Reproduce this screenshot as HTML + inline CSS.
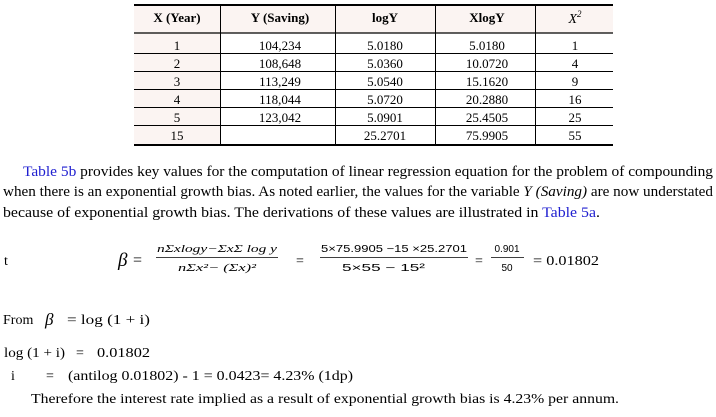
<!DOCTYPE html>
<html><head><meta charset="utf-8"><style>
html,body{margin:0;padding:0;background:#fff;}
svg{display:block}
text{font-family:"Liberation Serif",serif;fill:#000;white-space:pre}
.b{font-weight:bold}
.blue{fill:#2020d0}
.c{text-anchor:middle}
.s{font-family:"Liberation Sans",sans-serif}
</style></head><body>
<svg width="716" height="417" viewBox="0 0 716 417" xmlns="http://www.w3.org/2000/svg" xml:space="preserve">
<rect x="134" y="5" width="479" height="28" fill="#fbf4f2"/>
<rect x="134" y="33" width="86" height="112" fill="#fbf4f2"/>
<line x1="134" y1="5" x2="613" y2="5" stroke="#000" stroke-width="2"/>
<line x1="134" y1="33" x2="613" y2="33" stroke="#000" stroke-width="1.3"/>
<g stroke="#000" stroke-width="1">
<line x1="134" y1="53.5" x2="613" y2="53.5"/>
<line x1="134" y1="71.5" x2="613" y2="71.5"/>
<line x1="134" y1="89.5" x2="613" y2="89.5"/>
<line x1="134" y1="107.5" x2="613" y2="107.5"/>
<line x1="134" y1="125.5" x2="613" y2="125.5"/>
<line x1="220.5" y1="5" x2="220.5" y2="145"/>
<line x1="335.5" y1="5" x2="335.5" y2="145"/>
<line x1="435.5" y1="5" x2="435.5" y2="145"/>
<line x1="535.5" y1="5" x2="535.5" y2="145"/>
</g>
<line x1="134" y1="145" x2="613" y2="145" stroke="#000" stroke-width="2"/>
<g font-size="13">
<text class="b c" x="177" y="22">X (Year)</text>
<text class="b c" x="280" y="22">Y (Saving)</text>
<text class="b c" x="385" y="22">logY</text>
<text class="b c" x="487" y="22">XlogY</text>
<text class="c" x="575" y="23" font-style="italic" font-size="14">X<tspan font-size="9" dy="-6">2</tspan></text>
</g>
<g font-size="13">
<text class="c" x="177" y="50">1</text><text class="c" x="280" y="50">104,234</text><text class="c" x="385" y="50">5.0180</text><text class="c" x="487" y="50">5.0180</text><text class="c" x="575" y="50">1</text>
<text class="c" x="177" y="68">2</text><text class="c" x="280" y="68">108,648</text><text class="c" x="385" y="68">5.0360</text><text class="c" x="487" y="68">10.0720</text><text class="c" x="575" y="68">4</text>
<text class="c" x="177" y="86">3</text><text class="c" x="280" y="86">113,249</text><text class="c" x="385" y="86">5.0540</text><text class="c" x="487" y="86">15.1620</text><text class="c" x="575" y="86">9</text>
<text class="c" x="177" y="104">4</text><text class="c" x="280" y="104">118,044</text><text class="c" x="385" y="104">5.0720</text><text class="c" x="487" y="104">20.2880</text><text class="c" x="575" y="104">16</text>
<text class="c" x="177" y="122">5</text><text class="c" x="280" y="122">123,042</text><text class="c" x="385" y="122">5.0901</text><text class="c" x="487" y="122">25.4505</text><text class="c" x="575" y="122">25</text>
<text class="c" x="177" y="140">15</text><text class="c" x="385" y="140">25.2701</text><text class="c" x="487" y="140">75.9905</text><text class="c" x="575" y="140">55</text>
</g>
<g font-size="14.5">
<text x="23" y="176" textLength="690" lengthAdjust="spacingAndGlyphs"><tspan class="blue">Table 5b</tspan> provides key values for the computation of linear regression equation for the problem of compounding</text>
<text x="3" y="196" textLength="710" lengthAdjust="spacingAndGlyphs">when there is an exponential growth bias. As noted earlier, the values for the variable <tspan font-style="italic">Y (Saving)</tspan> are now understated</text>
<text x="3" y="217" textLength="597" lengthAdjust="spacingAndGlyphs">because of exponential growth bias. The derivations of these values are illustrated in <tspan class="blue">Table 5a</tspan>.</text>
</g>
<text x="4" y="265" font-size="14">t</text>
<text x="118" y="266" font-size="19" font-style="italic">β</text>
<text x="133" y="265" font-size="16">=</text>
<text x="157" y="252" font-size="11" font-style="italic" textLength="120" lengthAdjust="spacingAndGlyphs">nΣxlogy−ΣxΣ log y</text>
<line x1="156" y1="257.5" x2="278" y2="257.5" stroke="#000" stroke-width="0.8"/>
<text x="178" y="271" font-size="11" font-style="italic" textLength="78" lengthAdjust="spacingAndGlyphs">nΣx²− (Σx)²</text>
<text x="296" y="265" font-size="14">=</text>
<text x="321" y="252" font-size="10" class="s" textLength="146" lengthAdjust="spacingAndGlyphs">5×75.9905 −15 ×25.2701</text>
<line x1="320" y1="257.5" x2="468" y2="257.5" stroke="#000" stroke-width="0.8"/>
<text x="342" y="271" font-size="10" class="s" textLength="83" lengthAdjust="spacingAndGlyphs">5×55 − 15²</text>
<text x="475" y="265" font-size="14">=</text>
<text x="507" y="252" font-size="10" class="s c">0.901</text>
<line x1="491" y1="257.5" x2="524" y2="257.5" stroke="#000" stroke-width="0.8"/>
<text x="507" y="271" font-size="10" class="s c">50</text>
<text x="533" y="265" font-size="14" textLength="66" lengthAdjust="spacingAndGlyphs">= 0.01802</text>
<text x="3" y="324" font-size="14">From</text>
<text x="45" y="325" font-size="17" font-style="italic">β</text>
<text x="67" y="324" font-size="14" textLength="83" lengthAdjust="spacingAndGlyphs">= log (1 + i)</text>
<text x="4" y="357" font-size="14" textLength="61" lengthAdjust="spacingAndGlyphs">log (1 + i)</text>
<text x="76" y="357" font-size="14">=</text>
<text x="97" y="357" font-size="14" textLength="53" lengthAdjust="spacingAndGlyphs">0.01802</text>
<text x="11" y="380" font-size="14">i</text>
<text x="46" y="380" font-size="14">=</text>
<text x="68" y="380" font-size="14" textLength="285" lengthAdjust="spacingAndGlyphs">(antilog 0.01802) - 1 = 0.0423= 4.23% (1dp)</text>
<text x="31" y="403" font-size="14" textLength="588" lengthAdjust="spacingAndGlyphs">Therefore the interest rate implied as a result of exponential growth bias is 4.23% per annum.</text>
</svg>
</body></html>
